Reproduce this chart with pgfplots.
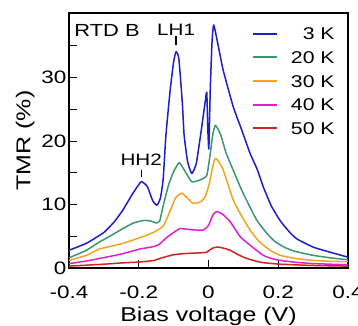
\documentclass[border=0pt]{standalone}
\usepackage{fontspec}
\setmainfont{Liberation Sans}[FakeStretch=1.25]
\usepackage{pgfplots}
\pgfplotsset{compat=1.18}
\definecolor{c3}{RGB}{30,30,200}
\definecolor{c20}{RGB}{60,150,110}
\definecolor{c30}{RGB}{240,165,30}
\definecolor{c40}{RGB}{225,30,210}
\definecolor{c50}{RGB}{210,35,35}
\begin{document}
\begin{tikzpicture}
\begin{axis}[
  at={(69pt,57pt)}, anchor=south west,
  scale only axis, width=279pt, height=255pt,
  xmin=-0.4, xmax=0.4, ymin=0, ymax=40.2,
  xtick={-0.4,-0.2,0,0.2,0.4}, xticklabels={-0.4,-0.2,0,0.2,0.4},
  ytick={0,5,10,15,20,25,30,35}, yticklabels={0,,10,,20,,30,},
  tick align=inside, xtick pos=bottom, ytick pos=left,
  major tick length=8pt,
  tick style={black, line width=1pt},
  axis line style={line width=1.2pt},
  /pgf/number format/assume math mode=true,
  ticklabel style={font=\fontsize{18}{18}\selectfont},
  xticklabel style={yshift=-14pt},
  yticklabel style={xshift=1pt},
  xlabel={Bias voltage (V)}, ylabel={TMR (\%)},
  xlabel style={yshift=-2pt},
  label style={font=\fontsize{20}{20}\selectfont},
  legend cell align=right,
  legend style={draw=none, fill=none, at={(0.953,0.944)}, anchor=north east,
    inner sep=0pt, font=\fontsize{17}{17}\selectfont,
    nodes={inner sep=0pt, text height=12.2pt, text depth=0pt},
    row sep=11.5pt, column sep=13pt},
  legend image code/.code={\draw[#1, line width=2pt] (0pt,0pt) -- (24pt,0pt);},
  every axis plot/.append style={line width=1.5pt, line join=round, smooth, tension=0.3},
  clip=true,
]
\addplot[c3] coordinates {
(-0.40,2.8) (-0.35,3.9) (-0.30,5.6) (-0.27,7.3) (-0.246,9.1) (-0.217,11.75)
(-0.193,13.6) (-0.175,12.8) (-0.16,10.6) (-0.148,9.9) (-0.138,11)
(-0.13,14) (-0.122,21) (-0.11,28) (-0.10,32.5) (-0.093,34.1)
(-0.085,33) (-0.075,26) (-0.07,21) (-0.06,16.8) (-0.048,14.9) (-0.035,16.5)
(-0.02,22) (-0.01,26) (-0.005,27.7) (-0.002,22) (0.001,18.8) (0.005,28)
(0.010,35.5) (0.015,38.3) (0.028,35.0) (0.042,31.2) (0.071,25.4)
(0.095,21.8) (0.119,18.1) (0.14,15.5) (0.157,12.8) (0.18,9.8) (0.205,7.5)
(0.23,5.8) (0.253,4.6) (0.30,3.3) (0.348,2.5) (0.40,1.7)
};
\addlegendentry{3 K}
\addplot[c20] coordinates {
(-0.40,1.6) (-0.35,2.8) (-0.313,4.1) (-0.28,5.1) (-0.246,6.2) (-0.215,7.1)
(-0.185,7.5) (-0.165,7.4) (-0.15,7.1) (-0.14,7.4) (-0.13,9.8) (-0.115,13)
(-0.10,15.2) (-0.084,16.6) (-0.07,15.5) (-0.048,13.6) (-0.024,13.9) (-0.005,14.6)
(0.005,18) (0.012,21) (0.02,22.5) (0.035,21) (0.05,18.2) (0.071,15.4)
(0.095,12.3) (0.119,9.6) (0.14,7.4) (0.167,5.5) (0.19,4.2) (0.22,3.2) (0.25,2.6)
(0.30,2.0) (0.35,1.6) (0.40,1.3)
};
\addlegendentry{20 K}
\addplot[c30] coordinates {
(-0.40,1.2) (-0.35,2.0) (-0.313,3.0) (-0.25,3.8) (-0.217,4.4) (-0.18,5.1)
(-0.155,5.7) (-0.13,6.6) (-0.11,9.0) (-0.095,11) (-0.077,11.8) (-0.06,11.0) (-0.044,10.2)
(-0.024,10.4) (-0.01,11.2) (0.002,13.2) (0.012,16) (0.02,17.3) (0.04,15.8)
(0.071,10.7) (0.095,8.2) (0.119,6.0) (0.14,4.5) (0.157,3.6) (0.18,2.7)
(0.205,2.0) (0.25,1.5) (0.30,1.2) (0.35,1.05) (0.40,1.0)
};
\addlegendentry{30 K}
\addplot[c40] coordinates {
(-0.40,0.7) (-0.35,1.1) (-0.313,1.5) (-0.25,2.2) (-0.196,3.0) (-0.155,3.4) (-0.14,3.8)
(-0.12,4.8) (-0.10,5.6) (-0.082,6.2) (-0.06,6.1) (-0.04,6.0) (-0.015,6.0)
(0.0,6.7) (0.012,8.3) (0.023,8.9) (0.04,8.5) (0.062,7.3) (0.09,5.0)
(0.11,4.0) (0.135,2.9) (0.157,2.0) (0.18,1.5) (0.205,1.2) (0.25,0.9)
(0.30,0.7) (0.35,0.6) (0.40,0.5)
};
\addlegendentry{40 K}
\addplot[c50] coordinates {
(-0.40,0.3) (-0.30,0.6) (-0.25,0.8) (-0.196,0.95) (-0.155,1.2) (-0.14,1.5) (-0.10,2.1)
(-0.06,2.3) (-0.02,2.4) (-0.005,2.5) (0.005,2.9) (0.015,3.2) (0.028,3.3)
(0.045,3.1) (0.062,2.8) (0.085,2.1) (0.11,1.5) (0.15,0.9) (0.205,0.6)
(0.30,0.4) (0.40,0.3)
};
\addlegendentry{50 K}
\node[font=\fontsize{17.5}{17.5}\selectfont] at (axis cs:-0.291,37.5) {RTD B};
\node[font=\fontsize{16.5}{16.5}\selectfont] at (axis cs:-0.093,37.6) {LH1};
\draw[line width=1.3pt] (axis cs:-0.093,35.2) -- (axis cs:-0.093,36.6);
\node[font=\fontsize{16.5}{16.5}\selectfont] at (axis cs:-0.193,17.0) {HH2};
\draw[line width=1.3pt] (axis cs:-0.193,14.3) -- (axis cs:-0.193,15.4);
\end{axis}
\pgfresetboundingbox
\path[use as bounding box] (0pt,0pt) rectangle (358pt,325pt);
\end{tikzpicture}
\end{document}
